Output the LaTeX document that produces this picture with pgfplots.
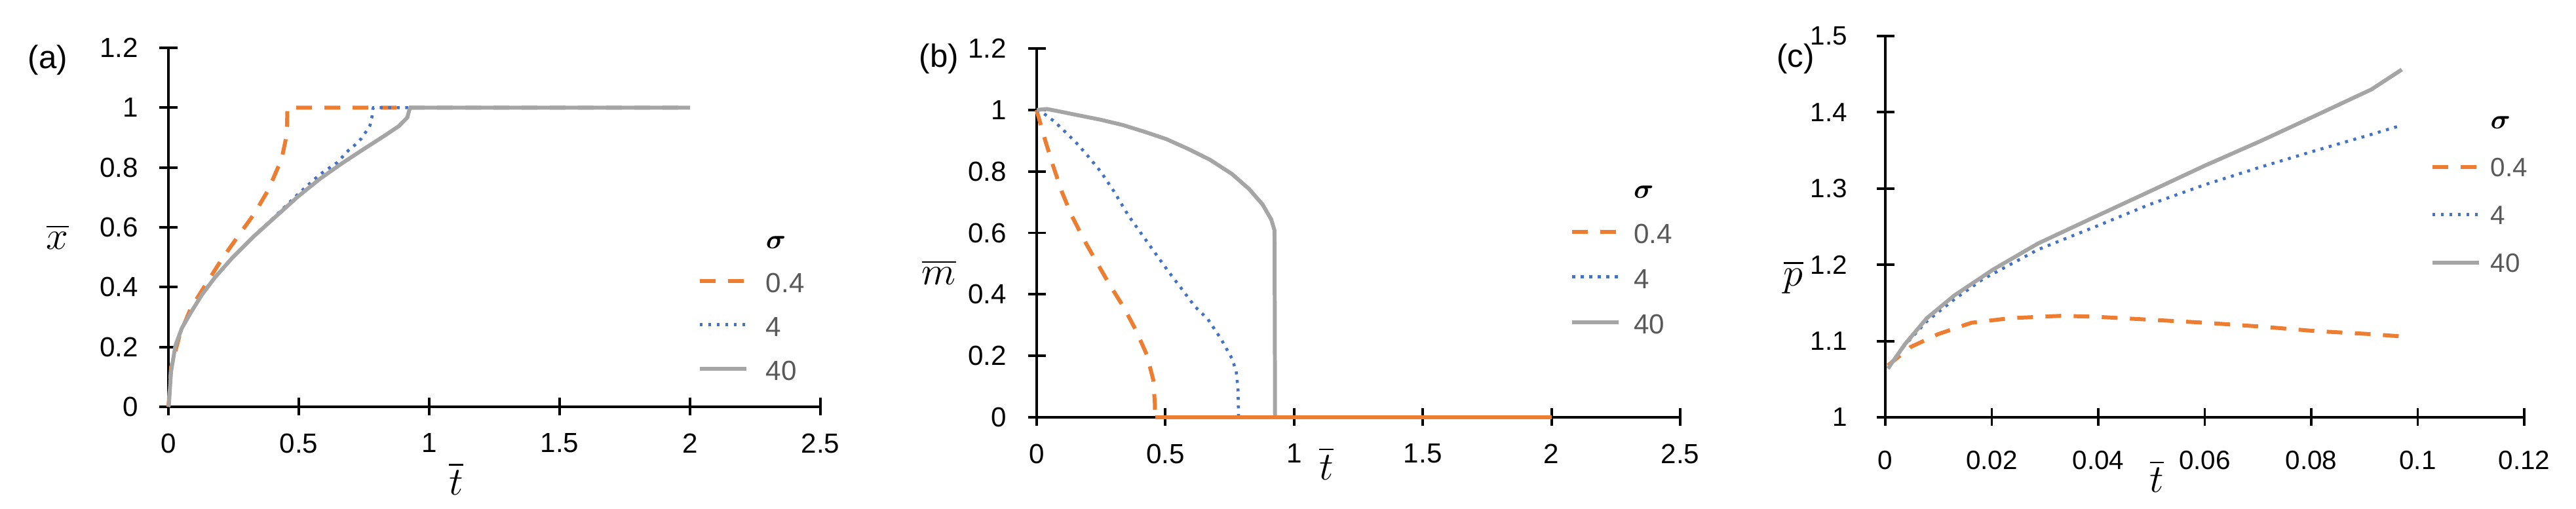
\documentclass[border=0pt]{standalone}
\usepackage{amsmath}
\usepackage{fontspec}
\setmainfont{Liberation Sans}
\usepackage{pgfplots}
\pgfplotsset{compat=1.18}

\definecolor{exorange}{RGB}{237,125,49}
\definecolor{exblue}{RGB}{68,114,196}
\definecolor{exgray}{RGB}{165,165,165}
\definecolor{legtext}{RGB}{89,89,89}

\newcommand{\labfont}{\fontsize{18}{21}\selectfont}

\pgfplotsset{
  panel/.style={
    scale only axis,
    anchor=south west,
    axis lines=left,
    axis line style={-, line width=1.1pt, black},
    major tick style={line width=1.1pt, black},
    tick align=center,
    major tick length=0.27cm,
    clip=false,
    scaled ticks=false,
    /pgf/number format/assume math mode=true,
    /pgf/number format/fixed,
    tick label style={font=\fontsize{12}{14}\selectfont, text=black},
    xticklabel style={yshift=-0.15cm},
    yticklabel style={xshift=-0.2cm},
    legend cell align=left,
    legend image code/.code={\draw[##1] (0cm,0cm) -- (0.71cm,0cm);},
  },
  ordash/.style={color=exorange, line width=1.7pt, dash pattern=on 0.24cm off 0.19cm},
  bldot/.style={color=exblue, line width=1.3pt, dash pattern=on 0.045cm off 0.085cm},
  grsol/.style={color=exgray, line width=1.7pt},
}

\begin{document}
\begin{tikzpicture}
\useasboundingbox (0,0) rectangle (39.31,7.77);

% (a) x-bar
\begin{axis}[panel,
  at={(2.57cm,1.56cm)}, width=9.95cm, height=5.48cm,
  xmin=0, xmax=2.5, ymin=0, ymax=1.2,
  xtick={0,0.5,1,1.5,2,2.5}, ytick={0,0.2,0.4,0.6,0.8,1,1.2},
  xlabel={$\overline{t}$}, ylabel={$\overline{x}$},
  every axis x label/.style={at={(axis description cs:0.441,-0.2)}, anchor=center, inner sep=0pt, font=\labfont},
  every axis y label/.style={at={(axis description cs:-0.17,0.474)}, anchor=center, inner sep=0pt, font=\labfont},
  legend style={draw=none, fill=none, at={(0.812,0.505)}, anchor=north west,
    inner sep=0pt, outer sep=0pt, row sep=0.32cm,
    font=\fontsize{12}{14}\selectfont, text=legtext,
    nodes={inner sep=0pt, text height=0.35cm, text depth=0cm}},
  /tikz/every odd column/.append style={column sep=0.27cm},
]
\addlegendimage{empty legend}
\addlegendentry{\textcolor{black}{$\boldsymbol{\sigma}$}}
\addplot[ordash] coordinates {
  (0,0) (0.002,0.022) (0.01,0.132) (0.044,0.242) (0.086,0.33) (0.144,0.41)
  (0.203,0.491) (0.262,0.564) (0.329,0.645) (0.383,0.725) (0.434,0.828)
  (0.45,0.894) (0.455,0.945) (0.456,1.0) (2,1.0)
};
\addlegendentry{0.4}
\addplot[bldot] coordinates {
  (0,0) (0.0017,0.007) (0.01,0.117) (0.027,0.205) (0.052,0.264) (0.086,0.315)
  (0.128,0.374) (0.178,0.432) (0.245,0.498) (0.329,0.571) (0.413,0.64)
  (0.497,0.711) (0.539,0.744) (0.581,0.777) (0.648,0.817) (0.69,0.857)
  (0.715,0.875) (0.74,0.897) (0.757,0.919) (0.773,0.941) (0.78,0.967)
  (0.784,0.996) (0.786,1.0) (2,1.0)
};
\addlegendentry{4}
\addplot[grsol] coordinates {
  (0,0) (0.0017,0.007) (0.01,0.117) (0.027,0.205) (0.052,0.264) (0.086,0.315)
  (0.128,0.374) (0.178,0.432) (0.245,0.498) (0.329,0.571) (0.413,0.637)
  (0.497,0.703) (0.581,0.762) (0.664,0.813) (0.748,0.861) (0.832,0.908)
  (0.883,0.938) (0.916,0.967) (0.924,0.993) (0.929,1.0) (2,1.0)
};
\addlegendentry{40}
\end{axis}

% (b) m-bar
\begin{axis}[panel,
  at={(15.82cm,1.40cm)}, width=9.82cm, height=5.63cm,
  xmin=0, xmax=2.5, ymin=0, ymax=1.2,
  xtick={0,0.5,1,1.5,2,2.5}, ytick={0,0.2,0.4,0.6,0.8,1,1.2},
  xlabel={$\overline{t}$}, ylabel={$\overline{m}$},
  every axis x label/.style={at={(axis description cs:0.45,-0.125)}, anchor=center, inner sep=0pt, font=\labfont},
  every axis y label/.style={at={(axis description cs:-0.152,0.393)}, anchor=center, inner sep=0pt, font=\labfont},
  legend style={draw=none, fill=none, at={(0.829,0.657)}, anchor=north west,
    inner sep=0pt, outer sep=0pt, row sep=0.34cm,
    font=\fontsize{12}{14}\selectfont, text=legtext,
    nodes={inner sep=0pt, text height=0.35cm, text depth=0cm}},
  /tikz/every odd column/.append style={column sep=0.2cm},
]
\addlegendimage{empty legend}
\addlegendentry{\textcolor{black}{$\boldsymbol{\sigma}$}}
\addplot[ordash] coordinates {
  (0,1.0) (0.003,0.989) (0.033,0.901) (0.063,0.82) (0.097,0.735) (0.135,0.658)
  (0.182,0.58) (0.232,0.506) (0.283,0.432) (0.338,0.358) (0.385,0.284)
  (0.428,0.203) (0.453,0.121) (0.459,0.044) (0.46,0)
};
\addlegendentry{0.4}
\addplot[bldot] coordinates {
  (0,1.0) (0.02,0.993) (0.071,0.961) (0.114,0.926) (0.156,0.891) (0.194,0.855)
  (0.249,0.799) (0.3,0.735) (0.355,0.658) (0.406,0.598) (0.457,0.538)
  (0.512,0.474) (0.563,0.418) (0.614,0.361) (0.665,0.319) (0.716,0.255)
  (0.758,0.192) (0.775,0.15) (0.782,0.093) (0.784,0.016) (0.784,0) (2,0)
};
\addlegendentry{4}
\addplot[grsol] coordinates {
  (0,1.0) (0.04,1.003) (0.08,0.9965) (0.165,0.982) (0.249,0.968) (0.334,0.951)
  (0.419,0.929) (0.504,0.905) (0.589,0.873) (0.673,0.838) (0.758,0.792)
  (0.826,0.742) (0.877,0.693) (0.911,0.644) (0.924,0.608) (0.926,0) (2,0)
};
\addlegendentry{40}
\addplot[color=exorange, line width=1.7pt, forget plot] coordinates {
  (0.46,0) (2,0)
};
\end{axis}

% (c) p-bar
\begin{axis}[panel,
  at={(28.77cm,1.40cm)}, width=9.75cm, height=5.82cm,
  xmin=0, xmax=0.12, ymin=1, ymax=1.5,
  xtick={0,0.02,0.04,0.06,0.08,0.1,0.12}, ytick={1,1.1,1.2,1.3,1.4,1.5},
  tick label style={font=\fontsize{11.5}{13}\selectfont},
  xticklabel style={yshift=-0.1cm},
  yticklabel style={xshift=-0.12cm},
  xlabel={$\overline{t}$}, ylabel={$\overline{p}$},
  every axis x label/.style={at={(axis description cs:0.425,-0.155)}, anchor=center, inner sep=0pt, font=\labfont},
  every axis y label/.style={at={(axis description cs:-0.144,0.368)}, anchor=center, inner sep=0pt, font=\labfont},
  legend style={draw=none, fill=none, at={(0.853,0.808)}, anchor=north west,
    inner sep=0pt, outer sep=0pt, row sep=0.43cm,
    font=\fontsize{11.5}{13}\selectfont, text=legtext,
    nodes={inner sep=0pt, text height=0.3cm, text depth=0cm}},
  /tikz/every odd column/.append style={column sep=0.15cm},
]
\addlegendimage{empty legend}
\addlegendentry{\textcolor{black}{$\boldsymbol{\sigma}$}}
\addplot[ordash] coordinates {
  (0.0005,1.068) (0.0047,1.092) (0.0099,1.109) (0.0162,1.124) (0.0235,1.13)
  (0.0329,1.133) (0.0391,1.132) (0.0496,1.128) (0.06,1.124) (0.0704,1.119)
  (0.0809,1.113) (0.0913,1.109) (0.097,1.106)
};
\addlegendentry{0.4}
\addplot[bldot] coordinates {
  (0.0005,1.064) (0.0037,1.095) (0.0078,1.126) (0.013,1.155) (0.0183,1.181)
  (0.0287,1.22) (0.0391,1.249) (0.0496,1.279) (0.06,1.305) (0.0704,1.328)
  (0.0809,1.35) (0.0913,1.371) (0.0965,1.382)
};
\addlegendentry{4}
\addplot[grsol] coordinates {
  (0.0005,1.064) (0.0037,1.096) (0.0078,1.13) (0.013,1.16) (0.0203,1.194)
  (0.0287,1.228) (0.0391,1.262) (0.0496,1.296) (0.06,1.33) (0.0704,1.362)
  (0.0809,1.396) (0.0913,1.43) (0.097,1.456)
};
\addlegendentry{40}
\end{axis}

\node[font=\fontsize{14}{16}\selectfont] at (0.73,6.85) {(a)};
\node[font=\fontsize{14}{16}\selectfont] at (14.33,6.87) {(b)};
\node[font=\fontsize{14}{16}\selectfont] at (27.40,6.87) {(c)};
\end{tikzpicture}
\end{document}
